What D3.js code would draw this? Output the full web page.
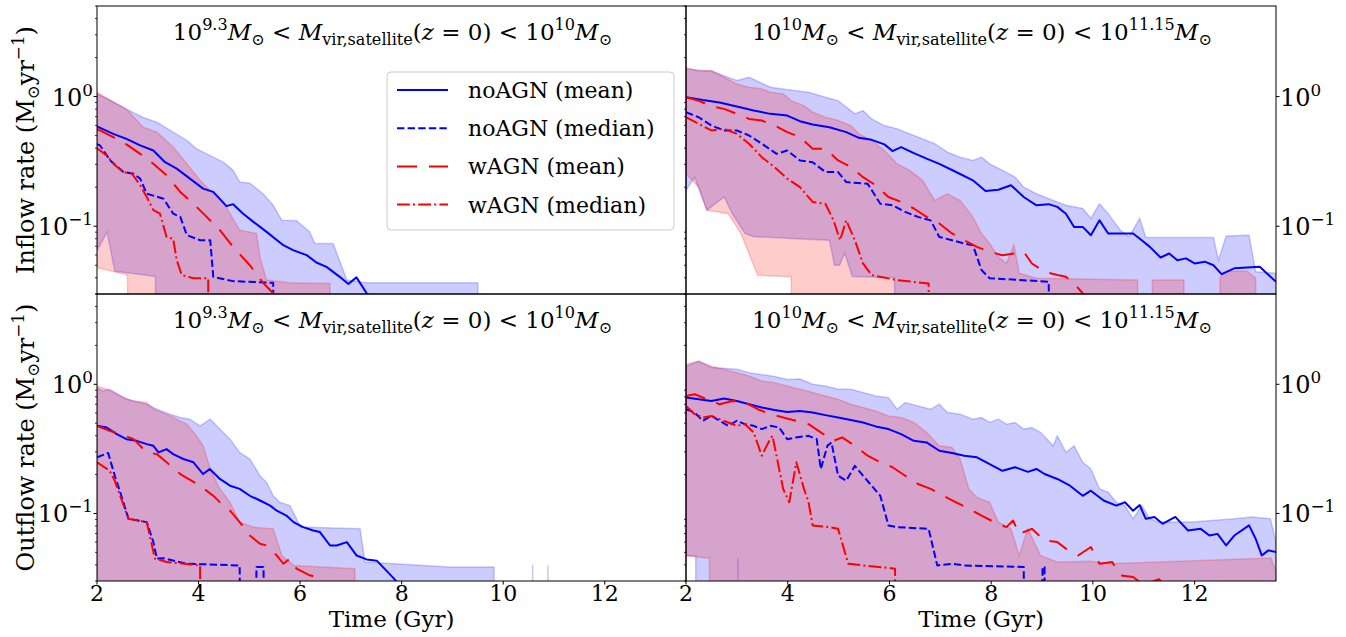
<!DOCTYPE html>
<html><head><meta charset="utf-8">
<script src="https://cdn.jsdelivr.net/npm/d3@7"></script>
<style>
body{margin:0;background:#fff}
svg text{font-family:"DejaVu Serif",serif;fill:#000;white-space:pre}
</style>
</head><body>
<svg id="c" width="1346" height="637"></svg>
<script>
const FLOOR = 1e-3;
const xDomain = [2, 13.6];
const yDomain = [0.03, 5];
const timeTicks = [2, 4, 6, 8, 10, 12];
const rateTicks = [1, 0.1];
const rateTickLabels = [[{t:'10'},{t:'0',sup:1}], [{t:'10'},{t:'−1',sup:1}]];
const seriesNames = ['noAGN (mean)', 'noAGN (median)', 'wAGN (mean)', 'wAGN (median)'];
const xLabel = 'Time (Gyr)';
const yLabels = [
  [{t:'Inflow rate (M'},{t:'⊙',sub:1},{t:'yr'},{t:'−1',sup:1},{t:')'}],
  [{t:'Outflow rate (M'},{t:'⊙',sub:1},{t:'yr'},{t:'−1',sup:1},{t:')'}]
];
const titleLow = [{t:'10'},{t:'9.3',sup:1},{t:'M',it:1},{t:'⊙',sub:1},{t:' < '},{t:'M',it:1},{t:'vir,satellite',sub:1},{t:'('},{t:'z',it:1},{t:' = 0) < 10'},{t:'10',sup:1},{t:'M',it:1},{t:'⊙',sub:1}];
const titleHigh = [{t:'10'},{t:'10',sup:1},{t:'M',it:1},{t:'⊙',sub:1},{t:' < '},{t:'M',it:1},{t:'vir,satellite',sub:1},{t:'('},{t:'z',it:1},{t:' = 0) < 10'},{t:'11.15',sup:1},{t:'M',it:1},{t:'⊙',sub:1}];

// ---------- Inflow, low mass ----------
const inLowNoMean = [[2.0,0.588],[2.32,0.516],[2.58,0.472],[2.85,0.42],[3.11,0.384],[3.34,0.312],[3.57,0.278],[3.83,0.233],[4.09,0.195],[4.29,0.184],[4.55,0.143],[4.68,0.148],[4.88,0.125],[5.08,0.108],[5.34,0.0904],[5.67,0.0714],[5.86,0.0654],[6.13,0.0598],[6.32,0.0525],[6.52,0.0486],[6.78,0.0407],[6.95,0.0358],[7.11,0.0403],[7.31,0.0304],[7.5,0.025],[8.0,0.02]];
const inLowNoMedian = [[2.0,0.43],[2.06,0.42],[2.26,0.322],[2.52,0.262],[2.72,0.254],[2.85,0.233],[2.98,0.178],[3.31,0.163],[3.5,0.125],[3.64,0.118],[3.77,0.0853],[4.03,0.078],[4.23,0.078],[4.29,0.0407],[4.68,0.0377],[5.47,0.0366],[5.49,FLOOR]];
const inLowAgnMean = [[2.0,0.564],[2.32,0.486],[2.58,0.428],[2.85,0.362],[3.11,0.303],[3.37,0.247],[3.64,0.184],[3.9,0.149],[4.16,0.118],[4.42,0.0932],[4.68,0.0693],[5.01,0.05],[5.27,0.0366],[5.47,0.0304],[5.7,0.022]];
const inLowAgnMedian = [[2.0,0.4],[2.06,0.384],[2.19,0.352],[2.36,0.294],[2.52,0.262],[2.69,0.254],[2.85,0.207],[2.98,0.168],[3.11,0.133],[3.24,0.125],[3.37,0.0827],[3.5,0.08],[3.57,0.0547],[3.67,0.042],[3.9,0.0397],[4.19,0.0397],[4.21,FLOOR]];
const inLowNoUpper = [[2.0,1.05],[2.3,0.92],[2.58,0.8],[2.91,0.69],[3.18,0.634],[3.5,0.532],[3.77,0.459],[3.96,0.396],[4.22,0.352],[4.49,0.312],[4.68,0.27],[4.81,0.219],[5.01,0.215],[5.27,0.178],[5.47,0.145],[5.64,0.111],[5.93,0.11],[6.19,0.0904],[6.29,0.0736],[6.65,0.0736],[6.92,0.0384],[7.31,0.0366],[9.5,0.0366],[9.52,FLOOR],[13.6,FLOOR]];
const inLowNoLower = [[2.0,0.065],[2.2,0.09],[2.35,0.045],[3.15,0.041],[3.17,FLOOR],[13.6,FLOOR]];
const inLowAgnUpper = [[2.0,1.08],[2.3,0.92],[2.58,0.8],[2.91,0.58],[3.18,0.532],[3.5,0.408],[3.77,0.303],[4.03,0.226],[4.29,0.178],[4.49,0.154],[4.62,0.125],[4.81,0.0932],[5.14,0.0879],[5.21,0.058],[5.34,0.0384],[5.8,0.0366],[6.59,0.0361],[6.62,FLOOR],[13.6,FLOOR]];
const inLowAgnLower = [[2.0,0.048],[2.6,0.042],[2.62,FLOOR],[13.6,FLOOR]];

// ---------- Inflow, high mass ----------
const inHighNoMean = [[2.0,0.99],[2.33,0.94],[2.66,0.9],[3.0,0.84],[3.33,0.78],[3.66,0.736],[3.99,0.714],[4.24,0.646],[4.49,0.609],[4.82,0.58],[5.15,0.532],[5.4,0.481],[5.65,0.464],[5.9,0.428],[6.06,0.38],[6.23,0.407],[6.48,0.366],[6.73,0.332],[6.98,0.303],[7.31,0.262],[7.64,0.226],[7.89,0.187],[8.14,0.191],[8.39,0.207],[8.64,0.168],[8.89,0.145],[9.13,0.148],[9.3,0.141],[9.47,0.125],[9.63,0.0988],[9.8,0.0988],[9.96,0.0853],[10.13,0.111],[10.3,0.0879],[10.79,0.0879],[10.96,0.078],[11.12,0.0693],[11.33,0.0574],[11.5,0.0616],[11.66,0.0547],[11.83,0.0565],[12.0,0.0516],[12.2,0.0533],[12.37,0.05],[12.53,0.0427],[12.78,0.0473],[13.28,0.0486],[13.6,0.0373]];
const inHighNoMedian = [[2.0,0.757],[2.25,0.693],[2.5,0.598],[2.75,0.548],[3.0,0.548],[3.24,0.501],[3.49,0.433],[3.78,0.362],[3.99,0.384],[4.24,0.322],[4.49,0.312],[4.74,0.262],[4.99,0.262],[5.15,0.219],[5.57,0.213],[5.82,0.149],[6.06,0.145],[6.31,0.129],[6.56,0.118],[6.81,0.111],[6.98,0.0827],[7.23,0.078],[7.47,0.0736],[7.64,0.0714],[7.81,0.0459],[7.97,0.0397],[9.13,0.0373],[9.2,FLOOR]];
const inHighAgnMean = [[2.0,0.99],[2.25,0.93],[2.5,0.84],[2.75,0.804],[3.0,0.736],[3.24,0.673],[3.49,0.654],[3.74,0.598],[3.99,0.532],[4.24,0.486],[4.49,0.396],[4.74,0.396],[4.99,0.322],[5.24,0.286],[5.48,0.239],[5.73,0.207],[5.98,0.168],[6.23,0.154],[6.48,0.137],[6.73,0.118],[6.98,0.105],[7.23,0.0879],[7.47,0.078],[7.72,0.0693],[7.97,0.0635],[8.22,0.0598],[8.47,0.0616],[8.64,0.0635],[8.8,0.0516],[9.05,0.0445],[9.3,0.042],[9.47,0.0407],[9.63,0.0361],[9.8,0.0304],[9.9,0.02]];
const inHighAgnMedian = [[2.0,0.693],[2.25,0.616],[2.5,0.548],[2.75,0.564],[3.0,0.516],[3.24,0.433],[3.49,0.341],[3.74,0.286],[3.99,0.233],[4.24,0.2],[4.49,0.154],[4.74,0.149],[4.9,0.111],[5.03,0.078],[5.15,0.111],[5.32,0.078],[5.48,0.0516],[5.65,0.042],[6.15,0.0384],[6.77,0.0361],[6.8,FLOOR]];
const inHighNoUpper = [[2.0,1.63],[2.5,1.57],[3.0,1.33],[3.24,1.41],[3.45,1.29],[3.66,1.18],[4.16,1.11],[4.41,1.08],[4.74,0.99],[4.99,0.93],[5.32,0.736],[5.48,0.78],[5.65,0.673],[5.9,0.598],[6.15,0.564],[6.4,0.516],[6.65,0.472],[6.89,0.433],[7.14,0.373],[7.39,0.341],[7.64,0.322],[7.81,0.341],[7.97,0.303],[8.22,0.27],[8.47,0.239],[8.64,0.2],[8.89,0.178],[9.22,0.158],[9.47,0.145],[9.8,0.137],[9.96,0.115],[10.13,0.149],[10.3,0.125],[10.54,0.0932],[10.71,0.0827],[10.92,0.115],[11.04,0.082],[12.37,0.082],[12.47,0.0547],[12.62,0.084],[13.07,0.0853],[13.2,0.0445],[13.6,0.0434]];
const inHighNoLower = [[2.0,0.189],[2.17,0.239],[2.41,0.133],[2.75,0.168],[2.91,0.125],[3.16,0.088],[3.33,0.083],[4.16,0.08],[4.82,0.078],[4.92,0.05],[5.02,0.05],[5.12,0.062],[5.27,0.041],[6.1,0.04],[6.12,FLOOR],[13.6,FLOOR]];
const inHighAgnUpper = [[2.0,1.68],[2.25,1.57],[2.5,1.6],[2.75,1.41],[3.0,1.25],[3.24,1.18],[3.49,1.15],[3.66,1.08],[3.91,1.05],[4.07,0.93],[4.32,0.85],[4.49,0.757],[4.74,0.693],[4.99,0.654],[5.24,0.598],[5.4,0.516],[5.65,0.459],[5.9,0.384],[6.15,0.303],[6.4,0.27],[6.65,0.226],[6.89,0.158],[7.14,0.178],[7.39,0.158],[7.64,0.118],[7.81,0.0879],[7.97,0.0736],[8.14,0.058],[8.3,0.0516],[8.45,0.072],[8.55,0.0434],[8.89,0.0397],[10.88,0.0384],[10.9,FLOOR],[11.15,FLOOR],[11.17,0.0384],[11.79,0.0384],[11.81,FLOOR],[12.48,FLOOR],[12.5,0.04],[12.62,0.045],[13.03,0.045],[13.2,0.04],[13.22,FLOOR],[13.6,FLOOR]];
const inHighAgnLower = [[2.0,0.254],[2.25,0.2],[2.41,0.133],[2.83,0.125],[3.08,0.088],[3.41,0.0419],[4.07,0.0407],[4.09,FLOOR],[13.6,FLOOR]];

// ---------- Outflow, low mass ----------
const outLowNoMean = [[2.0,0.477],[2.19,0.463],[2.39,0.411],[2.58,0.376],[2.78,0.365],[2.98,0.344],[3.11,0.334],[3.21,0.297],[3.37,0.315],[3.5,0.288],[3.7,0.264],[3.9,0.249],[4.09,0.202],[4.22,0.221],[4.42,0.185],[4.62,0.164],[4.81,0.155],[5.01,0.137],[5.21,0.126],[5.41,0.115],[5.54,0.105],[5.73,0.0963],[5.87,0.0857],[6.06,0.0784],[6.26,0.0738],[6.39,0.0718],[6.59,0.0565],[6.72,0.0565],[6.92,0.06],[7.11,0.0473],[7.31,0.0441],[7.51,0.0431],[7.84,0.0316],[7.95,0.028],[8.2,0.022]];
const outLowNoMedian = [[2.0,0.272],[2.22,0.294],[2.35,0.196],[2.48,0.137],[2.62,0.0909],[2.98,0.0857],[3.11,0.06],[3.18,0.0447],[3.31,0.045],[3.77,0.0408],[4.81,0.0396],[4.83,FLOOR],[5.12,FLOOR],[5.14,0.0385],[5.28,0.0385],[5.3,FLOOR]];
const outLowAgnMean = [[2.0,0.477],[2.25,0.436],[2.45,0.411],[2.72,0.376],[2.85,0.334],[2.98,0.297],[3.18,0.288],[3.37,0.249],[3.64,0.202],[4.03,0.164],[4.29,0.137],[4.49,0.115],[4.62,0.105],[4.81,0.0857],[5.01,0.0675],[5.21,0.0582],[5.34,0.0565],[5.54,0.0473],[5.67,0.0408],[5.8,0.0447],[5.93,0.0374],[6.19,0.0332],[6.32,0.0322],[6.39,0.028],[6.6,0.022]];
const outLowAgnMedian = [[2.0,0.249],[2.25,0.214],[2.35,0.179],[2.62,0.0909],[2.98,0.0857],[3.14,0.0447],[3.37,0.0421],[4.03,0.0396],[4.04,FLOOR]];
const outLowNoUpper = [[2.0,0.943],[2.12,0.888],[2.25,0.915],[2.58,0.766],[2.98,0.701],[3.18,0.641],[3.44,0.587],[3.64,0.553],[3.83,0.537],[4.03,0.477],[4.23,0.537],[4.42,0.45],[4.62,0.376],[4.81,0.297],[5.01,0.264],[5.21,0.196],[5.34,0.174],[5.47,0.137],[5.6,0.122],[5.8,0.115],[5.93,0.0909],[6.0,0.0784],[7.18,0.076],[7.28,0.0421],[8.95,0.0385],[9.82,0.0385],[9.84,FLOOR],[10.56,FLOOR],[10.58,0.04],[10.6,FLOOR],[10.86,FLOOR],[10.88,0.04],[10.9,FLOOR],[13.6,FLOOR]];
const outLowNoLower = [[2.0,FLOOR],[13.6,FLOOR]];
const outLowAgnUpper = [[2.0,0.97],[2.19,0.915],[2.45,0.813],[2.72,0.743],[2.98,0.722],[3.11,0.641],[3.44,0.569],[3.77,0.491],[3.96,0.399],[4.09,0.334],[4.19,0.249],[4.29,0.196],[4.42,0.155],[4.62,0.122],[4.81,0.0857],[5.08,0.0784],[5.47,0.076],[5.64,0.0473],[5.87,0.0396],[7.08,0.0374],[7.1,FLOOR],[13.6,FLOOR]];
const outLowAgnLower = [[2.0,FLOOR],[13.6,FLOOR]];

// ---------- Outflow, high mass ----------
const outHighNoMean = [[2.0,0.789],[2.5,0.743],[2.75,0.776],[3.0,0.743],[3.24,0.701],[3.49,0.661],[3.74,0.633],[3.99,0.611],[4.24,0.622],[4.49,0.605],[4.74,0.577],[4.99,0.553],[5.24,0.53],[5.48,0.506],[5.73,0.472],[5.98,0.45],[6.23,0.411],[6.48,0.365],[6.73,0.355],[6.98,0.306],[7.23,0.294],[7.47,0.28],[7.72,0.272],[7.97,0.241],[8.22,0.214],[8.47,0.228],[8.72,0.21],[8.89,0.221],[9.05,0.202],[9.3,0.185],[9.55,0.164],[9.8,0.137],[9.96,0.15],[10.21,0.126],[10.46,0.115],[10.63,0.122],[10.79,0.105],[10.92,0.116],[11.04,0.0909],[11.21,0.094],[11.37,0.0832],[11.62,0.094],[11.87,0.0738],[12.12,0.076],[12.29,0.0675],[12.45,0.0695],[12.62,0.0565],[12.78,0.0675],[13.07,0.0808],[13.2,0.0637],[13.32,0.0473],[13.45,0.0518],[13.6,0.0503]];
const outHighNoMedian = [[2.0,0.641],[2.17,0.605],[2.33,0.522],[2.5,0.569],[2.66,0.522],[2.83,0.477],[3.0,0.522],[3.16,0.491],[3.33,0.477],[3.49,0.45],[3.66,0.477],[3.83,0.463],[3.99,0.376],[4.16,0.388],[4.41,0.399],[4.57,0.376],[4.65,0.221],[4.78,0.334],[4.86,0.355],[4.99,0.196],[5.15,0.179],[5.32,0.234],[5.48,0.196],[5.65,0.164],[5.82,0.137],[5.98,0.0808],[6.15,0.0784],[6.77,0.076],[6.94,0.0396],[7.23,0.0408],[7.47,0.0396],[8.64,0.0385],[8.66,FLOOR],[8.99,FLOOR],[9.01,0.0385],[9.05,0.0385],[9.07,FLOOR]];
const outHighAgnMean = [[2.0,0.813],[2.17,0.837],[2.41,0.766],[2.66,0.701],[2.91,0.743],[3.16,0.722],[3.41,0.641],[3.66,0.587],[3.91,0.553],[4.16,0.522],[4.41,0.491],[4.65,0.424],[4.9,0.365],[5.07,0.388],[5.32,0.334],[5.57,0.28],[5.82,0.249],[6.06,0.228],[6.31,0.196],[6.56,0.169],[6.81,0.155],[7.06,0.137],[7.31,0.122],[7.56,0.109],[7.81,0.0963],[8.06,0.0857],[8.3,0.0784],[8.43,0.0882],[8.55,0.0695],[8.8,0.076],[9.05,0.0618],[9.3,0.06],[9.47,0.0534],[9.71,0.0473],[9.96,0.055],[10.13,0.0408],[10.38,0.0421],[10.54,0.0332],[10.79,0.0322],[11.0,0.028],[11.3,0.031],[11.5,0.025]];
const outHighAgnMedian = [[2.0,0.68],[2.17,0.587],[2.33,0.553],[2.5,0.569],[2.66,0.537],[2.83,0.506],[3.0,0.477],[3.16,0.491],[3.33,0.424],[3.49,0.28],[3.62,0.355],[3.7,0.399],[3.91,0.155],[4.03,0.122],[4.17,0.249],[4.32,0.155],[4.41,0.122],[4.49,0.0808],[4.82,0.0784],[4.99,0.076],[5.19,0.0408],[5.48,0.0396],[6.11,0.0374],[6.13,FLOOR]];
const outHighNoUpper = [[2.0,1.38],[2.25,1.51],[2.5,1.35],[3.0,1.31],[3.24,1.23],[3.74,1.15],[3.99,1.09],[4.24,1.1],[4.49,1.0],[4.74,0.97],[4.99,0.915],[5.24,0.915],[5.48,0.863],[5.73,0.813],[5.98,0.789],[6.15,0.641],[6.31,0.722],[6.56,0.68],[6.81,0.641],[6.98,0.701],[7.14,0.605],[7.39,0.587],[7.64,0.537],[7.81,0.553],[7.97,0.506],[8.14,0.537],[8.3,0.491],[8.47,0.506],[8.64,0.45],[8.8,0.463],[8.97,0.424],[9.22,0.334],[9.3,0.399],[9.47,0.297],[9.63,0.334],[9.8,0.249],[9.96,0.221],[10.13,0.155],[10.3,0.146],[10.46,0.122],[10.63,0.115],[10.79,0.0909],[10.96,0.115],[11.12,0.0909],[11.29,0.0857],[11.95,0.0857],[12.78,0.0909],[13.12,0.094],[13.49,0.0909],[13.6,0.06]];
const outHighNoLower = [[2.0,0.047],[2.19,0.047],[2.2,FLOOR],[3.0,FLOOR],[3.02,0.045],[3.04,FLOOR],[13.6,FLOOR]];
const outHighAgnUpper = [[2.0,1.43],[2.25,1.51],[2.5,1.38],[2.75,1.31],[3.0,1.23],[3.24,1.16],[3.49,1.06],[3.74,1.03],[3.99,0.97],[4.24,0.915],[4.49,0.863],[4.74,0.813],[4.99,0.766],[5.24,0.701],[5.48,0.661],[5.73,0.622],[5.98,0.569],[6.23,0.553],[6.48,0.506],[6.73,0.424],[6.98,0.334],[7.23,0.324],[7.39,0.264],[7.56,0.155],[7.72,0.133],[7.97,0.122],[8.14,0.0857],[8.39,0.076],[8.55,0.0473],[8.72,0.076],[8.97,0.0473],[9.3,0.0421],[9.96,0.0427],[10.3,0.0408],[13.5,0.0452],[13.6,0.036]];
const outHighAgnLower = [[2.0,0.047],[2.46,0.045],[2.48,FLOOR],[13.6,FLOOR]];

const panels = [
  {col:0,row:0,title:titleLow, noMean:inLowNoMean,noMedian:inLowNoMedian,agnMean:inLowAgnMean,agnMedian:inLowAgnMedian,noUpper:inLowNoUpper,noLower:inLowNoLower,agnUpper:inLowAgnUpper,agnLower:inLowAgnLower},
  {col:1,row:0,title:titleHigh,noMean:inHighNoMean,noMedian:inHighNoMedian,agnMean:inHighAgnMean,agnMedian:inHighAgnMedian,noUpper:inHighNoUpper,noLower:inHighNoLower,agnUpper:inHighAgnUpper,agnLower:inHighAgnLower},
  {col:0,row:1,title:titleLow, noMean:outLowNoMean,noMedian:outLowNoMedian,agnMean:outLowAgnMean,agnMedian:outLowAgnMedian,noUpper:outLowNoUpper,noLower:outLowNoLower,agnUpper:outLowAgnUpper,agnLower:outLowAgnLower},
  {col:1,row:1,title:titleHigh,noMean:outHighNoMean,noMedian:outHighNoMedian,agnMean:outHighAgnMean,agnMedian:outHighAgnMedian,noUpper:outHighNoUpper,noLower:outHighNoLower,agnUpper:outHighAgnUpper,agnLower:outHighAgnLower}
];

// ---------- layout / style ----------
const colX = [[97,686],[686,1276]];
const rowY = [[6,294],[294,581]];
const styles = [
  {key:'noMean',  color:'#0000ff', dash:null},
  {key:'noMedian',color:'#0000ff', dash:'7.4,3.2'},
  {key:'agnMean', color:'#ff0000', dash:'20,12'},
  {key:'agnMedian',color:'#ff0000',dash:'12.8,3.2,2,3.2'}
];
const LW = 2;

const svg = d3.select('#c');
const defs = svg.append('defs');

function rich(textSel, segs, size){
  let cur = 0;
  segs.forEach(s=>{
    const target = s.sup ? -0.42*size : (s.sub ? 0.22*size : 0);
    const ts = textSel.append('tspan').text(s.t)
      .attr('dy', (target-cur).toFixed(2))
      .attr('font-size', (s.sup||s.sub) ? size*0.7 : size);
    if (s.it) ts.attr('font-style','italic');
    cur = target;
  });
}

panels.forEach((p,i)=>{
  const [x0,x1] = colX[p.col], [y0,y1] = rowY[p.row];
  const x = d3.scaleLinear().domain(xDomain).range([x0,x1]);
  const y = d3.scaleLog().domain(yDomain).range([y1,y0]);
  defs.append('clipPath').attr('id','clip'+i).append('rect')
    .attr('x',x0).attr('y',y0).attr('width',x1-x0).attr('height',y1-y0);
  const g = svg.append('g');
  const plot = g.append('g').attr('clip-path',`url(#clip${i})`);
  const line = d3.line().x(d=>x(d[0])).y(d=>y(d[1]));

  const band = (up, lo, color) => plot.append('path')
    .attr('d', line(up.concat(lo.slice().reverse())) + 'Z')
    .attr('fill', color).attr('fill-opacity', 0.2)
    .attr('stroke', color).attr('stroke-opacity', 0.2).attr('stroke-width', 1.5);
  band(p.noUpper, p.noLower, '#0000ff');
  band(p.agnUpper, p.agnLower, '#ff0000');

  styles.forEach(s=>{
    plot.append('path').attr('d', line(p[s.key]))
      .attr('fill','none').attr('stroke', s.color).attr('stroke-width', LW)
      .attr('stroke-linejoin','round')
      .attr('stroke-dasharray', s.dash);
  });

  // spines
  g.append('rect').attr('x',x0).attr('y',y0).attr('width',x1-x0).attr('height',y1-y0)
    .attr('fill','none').attr('stroke','#000').attr('stroke-width',1);

  // y ticks
  const minor = [];
  [0.01,0.1,1].forEach(d=>{ for(let k=2;k<=9;k++){ const v=d*k; if(v>=yDomain[0]&&v<=yDomain[1]) minor.push(v);} });
  const tickX = p.col===0 ? x0 : x1;
  const dir = p.col===0 ? -1 : 1;
  rateTicks.forEach(v=>{
    g.append('line').attr('x1',tickX).attr('x2',tickX+dir*3.5).attr('y1',y(v)).attr('y2',y(v)).attr('stroke','#000').attr('stroke-width',1);
  });
  minor.forEach(v=>{
    g.append('line').attr('x1',x0).attr('x2',x0-2).attr('y1',y(v)).attr('y2',y(v)).attr('stroke','#000').attr('stroke-width',0.8);
  });
  rateTicks.forEach((v,k)=>{
    const t = g.append('text').attr('y', y(v)+9).attr('font-family','Liberation Serif').attr('font-size',24);
    if (p.col===0) t.attr('x', x0-4).attr('text-anchor','end'); else t.attr('x', x1+4).attr('text-anchor','start');
    rich(t, rateTickLabels[k], 24);
  });

  // x ticks (bottom row)
  if (p.row===1){
    timeTicks.forEach(v=>{
      g.append('line').attr('x1',x(v)).attr('x2',x(v)).attr('y1',y1).attr('y2',y1+3.5).attr('stroke','#000');
      g.append('text').attr('x',x(v)).attr('y',y1+20).attr('text-anchor','middle')
        .attr('font-family','Liberation Serif').attr('font-size',22).text(v);
    });
    g.append('text').attr('x',(x0+x1)/2).attr('y',627).attr('text-anchor','middle').attr('font-size',23).text(xLabel);
  }

  // title
  const tt = g.append('text').attr('x',(x0+x1)/2 + 1).attr('y',y0+34).attr('text-anchor','middle');
  rich(tt, p.title, 23);

  // y label
  if (p.col===0){
    const cy = (y0+y1)/2;
    const yl = g.append('text').attr('transform',`translate(34,${cy}) rotate(-90)`).attr('text-anchor','middle');
    rich(yl, yLabels[p.row], 24);
  }
});

// legend
const lg = svg.append('g');
lg.append('rect').attr('x',387).attr('y',72).attr('width',287).attr('height',158).attr('rx',4)
  .attr('fill','#fff').attr('fill-opacity',0.8).attr('stroke','#cccccc').attr('stroke-width',1);
styles.forEach((s,k)=>{
  const ly = 90 + k*38.2;
  lg.append('line').attr('x1',397).attr('x2',448).attr('y1',ly).attr('y2',ly)
    .attr('stroke',s.color).attr('stroke-width',LW).attr('stroke-dasharray',s.dash);
  lg.append('text').attr('x',468).attr('y',ly+8).attr('font-size',22).text(seriesNames[k]);
});
</script>
</body></html>
